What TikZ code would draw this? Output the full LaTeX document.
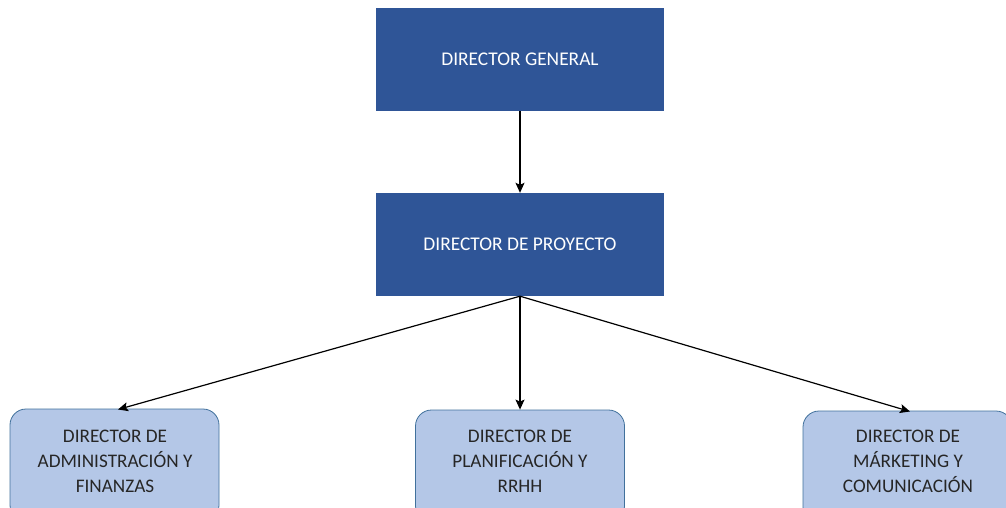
\documentclass[tikz,border=0pt]{standalone}
\usepackage{fontspec}
\setmainfont{Carlito}
\usetikzlibrary{arrows.meta}
\definecolor{dkblue}{HTML}{2F5597}
\definecolor{ltblue}{HTML}{B4C7E7}
\definecolor{edgeblue}{HTML}{41719C}
\definecolor{txtdark}{HTML}{262626}
\begin{document}
\begin{tikzpicture}[x=1pt,y=-1pt,
  topbox/.style={fill=dkblue, draw=none, minimum width=288pt, minimum height=103pt, text=white, font=\fontsize{19.4}{23}\selectfont, inner sep=0pt},
  subbox/.style={fill=ltblue, draw=edgeblue, line width=0.8pt, rounded corners=16pt, minimum width=209pt, minimum height=112pt, inner sep=0pt},
  subtext/.style={text=txtdark, align=center, font=\fontsize{19.2}{25}\selectfont},
  conn/.style={-{Stealth[length=10pt,width=9pt,inset=2pt]}, line width=1.2pt, black}]
\useasboundingbox (0,0) rectangle (1006,508);
\clip (0,0) rectangle (1006,508);
\node[topbox] (dg) at (520,59.5) {DIRECTOR GENERAL};
\node[topbox] (dp) at (520,244.5) {DIRECTOR DE PROYECTO};
\node[subbox] (af) at (114.5,465) {};
\node[subbox] (pr) at (520,466) {};
\node[subbox] (mc) at (907.5,467) {};
\node[subtext] (aft) at (115,461) {DIRECTOR DE\\ADMINISTRACIÓN Y\\FINANZAS};
\node[subtext] (prt) at (520,461) {DIRECTOR DE\\PLANIFICACIÓN Y\\RRHH};
\node[subtext] (mct) at (908,461) {DIRECTOR DE\\MÁRKETING Y\\COMUNICACIÓN};
\draw[conn] (dg.south) -- (dp.north);
\coordinate (o) at (dp.south);
\draw[conn] (o) -- (118,409.5);
\draw[conn] (o) -- (pr.north);
\draw[conn] (o) -- (910,411.5);
\end{tikzpicture}
\end{document}
